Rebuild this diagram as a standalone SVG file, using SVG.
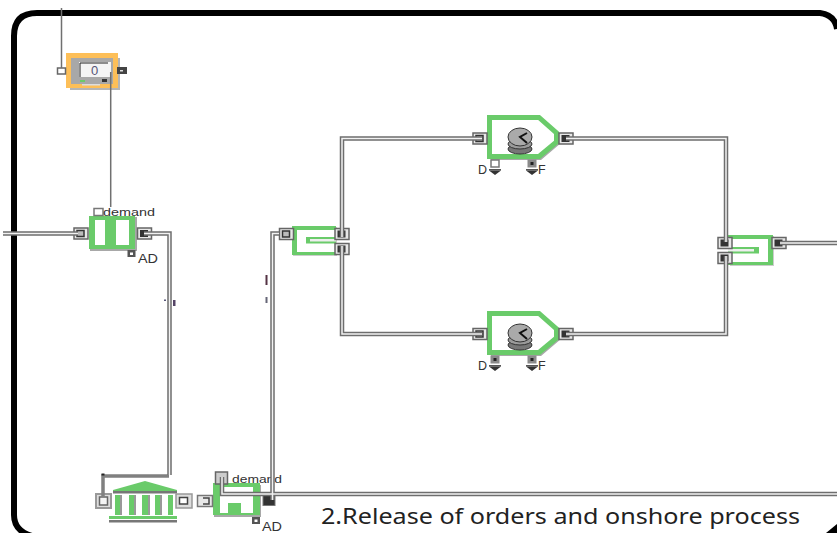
<svg xmlns="http://www.w3.org/2000/svg" width="837" height="533" viewBox="0 0 837 533">
<defs>
<style>
text{font-family:"Liberation Sans",Arial,sans-serif;font-size:11px;fill:#333}
.wire{fill:none;stroke:#6e6e6e;stroke-width:4.5}
.wirei{fill:none;stroke:#f2f2f2;stroke-width:1.5}
.thin{fill:none;stroke:#707070;stroke-width:1.5}
.solid{fill:none;stroke:#808080;stroke-width:3.5}
.s{fill:#a8a8a8}
.gf{fill:#6acb6a}
.w{fill:#fff}
</style>
<g id="pin"><rect x="-7" y="-5.500" width="14" height="11" fill="#e8e8e8" stroke="#666" stroke-width="1.500"/><rect x="-4" y="-3" width="7" height="6" fill="#bbb" stroke="#333" stroke-width="1.500"/></g>
<g id="pout"><rect x="-7" y="-5.500" width="14" height="11" fill="#e8e8e8" stroke="#666" stroke-width="1.500"/><rect x="-4.500" y="-3.500" width="8" height="7" fill="#333"/></g>
<g id="hw"><rect x="-4" y="-6" width="8" height="7" fill="#fff" stroke="#777" stroke-width="1.500"/><rect x="-6" y="3" width="12" height="1.500" fill="#555"/><path d="M-6 4.500H6L0 9Z" fill="#333"/></g>
<g id="hd"><rect x="-4.500" y="-6.500" width="9" height="8" fill="#8a8a8a"/><rect x="-1.500" y="-4" width="3" height="3" fill="#222"/><rect x="-6" y="3" width="12" height="1.500" fill="#555"/><path d="M-6 4.500H6L0 9Z" fill="#333"/></g>
<g id="clock"><ellipse cx="0" cy="12" rx="12" ry="5" fill="#777" stroke="#333"/><ellipse cx="0" cy="7" rx="12" ry="5" fill="#9a9a9a" stroke="#333"/><ellipse cx="0" cy="0" rx="12" ry="9" fill="#aaa" stroke="#333"/><path d="M7 -4L0 0L7 6" fill="none" stroke="#111" stroke-width="2"/></g>
<g id="cond"><path d="M-36 -18H16L36 -2V5L16 22H-34V19Z" class="s"/><path d="M-35.500 -20.500H14L31.500 -5V4L14 18.500H-35.500Z" fill="#fff" stroke="#6acb6a" stroke-width="5"/></g>
</defs>
<rect width="837" height="533" fill="#fff"/>
<path id="frame" d="M32 536Q14 531 14 515V36Q14 13 37 13H820Q835 15 837 29" fill="none" stroke="#000" stroke-width="6"/>
<path d="M826 533L837 524V533Z" fill="#000"/>
<g id="monitor">
<rect x="70" y="58" width="50" height="32" fill="#b5b5b5"/>
<rect x="66" y="53" width="52" height="35" fill="#fdbf58"/>
<rect x="71" y="58" width="42" height="26" fill="#a8a8a8"/>
<rect x="79" y="62" width="32" height="15" fill="#f4f4f4"/>
<path d="M80 77V63H108" fill="none" stroke="#222"/>
<rect x="80" y="80" width="5" height="2" class="gf"/>
<rect x="102" y="79" width="5" height="3" fill="#333"/>
<rect x="82" y="84" width="18" height="1.500" fill="#ddd"/>
<text x="94.500" y="74.500" text-anchor="middle" style="font-size:13px;fill:#557">0</text>
<rect x="57.500" y="68" width="8" height="6" fill="#fff" stroke="#666" stroke-width="1.500"/>
<rect x="117" y="67" width="10" height="7" fill="#444"/><rect x="120" y="70" width="3" height="1.500" fill="#ddd"/>
</g>
<g id="demand-top">
<rect x="90" y="217" width="47" height="34" class="s"/>
<rect x="89" y="216" width="46" height="33" class="gf"/>
<rect x="95" y="220" width="10" height="25" class="w"/>
<rect x="116" y="220" width="13" height="25" class="w"/>
<rect x="94" y="208.500" width="9" height="7" fill="#fff" stroke="#777" stroke-width="1.500"/>
<text x="103" y="216" textLength="52" lengthAdjust="spacingAndGlyphs">demand</text>
<use href="#pin" x="81" y="233.500"/><use href="#pout" x="144.500" y="233.500"/>
<rect x="127.500" y="250" width="8" height="7" fill="#555"/><rect x="130" y="252.500" width="3" height="2.500" fill="#fff"/>
<text x="138" y="263" textLength="20" lengthAdjust="spacingAndGlyphs" style="font-size:12px">AD</text>
</g>
<g id="bank">
<rect x="96" y="494" width="15" height="14" fill="#ddd" stroke="#999" stroke-width="2"/><rect x="99.500" y="497" width="8" height="8" fill="#f4f4f4" stroke="#666" stroke-width="1.500"/>
<path d="M113 490L145 481L177 490V492H113Z" class="gf"/>
<rect x="113" y="491" width="64" height="2.500" fill="#777"/>
<rect x="115" y="495" width="5" height="20" class="gf"/><rect x="129" y="495" width="5" height="20" class="gf"/><rect x="142" y="495" width="6" height="20" class="gf"/><rect x="155" y="495" width="5" height="20" class="gf"/><rect x="168" y="495" width="5" height="20" class="gf"/>
<rect x="120" y="495" width="2" height="20" fill="#999"/><rect x="134" y="495" width="2" height="20" fill="#999"/><rect x="148" y="495" width="2" height="20" fill="#999"/><rect x="160" y="495" width="2" height="20" fill="#999"/>
<rect x="109" y="516" width="68" height="3" class="gf"/><rect x="109" y="520" width="68" height="2.500" fill="#777"/>
<rect x="176" y="494" width="16" height="14" fill="#ddd" stroke="#999" stroke-width="1.500"/><rect x="179.500" y="497.500" width="8" height="6.500" fill="#fff" stroke="#444" stroke-width="1.500"/>
</g>
<g id="demand-bottom">
<rect x="214" y="485" width="47" height="32" class="s"/>
<rect x="213" y="483" width="47" height="32" class="gf"/>
<rect x="220" y="487" width="33" height="26" class="w"/>
<rect x="228" y="503" width="13" height="10" class="gf"/>
<rect x="197.500" y="495.500" width="15" height="11" fill="#e8e8e8" stroke="#777" stroke-width="1.500"/><path d="M203 498H209V504H203" fill="none" stroke="#444" stroke-width="1.500"/>
<rect x="215.500" y="472" width="12" height="12" fill="#ccc" stroke="#666" stroke-width="1.500"/>
<rect x="263" y="495" width="12" height="10.500" fill="#333" stroke="#777"/>
<text x="232" y="483" textLength="50" lengthAdjust="spacingAndGlyphs">demand</text>
<rect x="252" y="517" width="8" height="7" fill="#555"/><rect x="254.500" y="519.500" width="3" height="2.500" fill="#fff"/>
<text x="262" y="530.500" textLength="20" lengthAdjust="spacingAndGlyphs" style="font-size:12px">AD</text>
</g>
<g id="select">
<rect x="293" y="227" width="44" height="29" fill="#ccc"/>
<rect x="292" y="226" width="44" height="29" class="gf"/>
<rect x="297" y="230" width="39" height="22" class="w"/>
<rect x="306" y="237" width="30" height="6.500" class="gf"/>
<rect x="310" y="239" width="26" height="2.500" fill="#eee"/>
<use href="#pin" x="286.500" y="234"/>
<use href="#pout" x="342" y="234"/>
<use href="#pout" x="342" y="249"/>
</g>
<g id="delay-top">
<use href="#cond" x="525" y="138"/>
<use href="#clock" x="520" y="137"/>
<use href="#pin" x="480" y="138.500"/><use href="#pout" x="566" y="138.500"/>
<use href="#hw" x="495" y="166"/><use href="#hd" x="532" y="166"/>
<text x="478" y="173.500" style="font-size:12.500px">D</text><text x="538" y="173.500" style="font-size:12.500px">F</text>
</g>
<g id="delay-bottom">
<use href="#cond" x="525" y="334"/>
<use href="#clock" x="520" y="333"/>
<use href="#pin" x="480" y="334"/><use href="#pout" x="566" y="334"/>
<use href="#hd" x="495" y="362"/><use href="#hd" x="532" y="362"/>
<text x="478" y="369.500" style="font-size:12.500px">D</text><text x="538" y="369.500" style="font-size:12.500px">F</text>
</g>
<g id="merge">
<rect x="730" y="236" width="44" height="30" fill="#ccc"/>
<rect x="728" y="235" width="45" height="30" class="gf"/>
<rect x="728" y="239" width="40" height="23" class="w"/>
<rect x="728" y="247" width="31" height="6.500" class="gf"/>
<rect x="728" y="249" width="26" height="2.500" fill="#eee"/>
<use href="#pout" x="725" y="243"/>
<use href="#pout" x="725" y="258"/>
<use href="#pout" x="779" y="243"/>
</g>
<g id="connectors">
<path class="thin" d="M61.500 8V68M110.700 72V207"/>
<path class="solid" d="M103 497V476H169"/>
<rect x="101.500" y="473.500" width="3" height="2" fill="#222"/>
<path class="wire" d="M3 233.500H78M144 233.500H169.500V475M279 233.500H272.500V500M222 477V494H837M566 138.500H726V242M566 334H726V256M342 237V138.500H482M342 246V334H482M780 243H837"/>
<path class="wirei" d="M3 233.500H78M144 233.500H169.500V475M279 233.500H272.500V500M222 477V494H837M566 138.500H726V242M566 334H726V256M342 237V138.500H482M342 246V334H482M780 243H837"/>
</g>
<g id="marks">
<rect x="164" y="299.500" width="2" height="1.500" fill="#557"/>
<rect x="173" y="300" width="2.500" height="6" fill="#546"/>
<rect x="265.500" y="275" width="2" height="10" fill="#534"/>
<rect x="265.500" y="297" width="2" height="6" fill="#667"/>
</g>
<text id="caption" x="321" y="523.500" textLength="479" lengthAdjust="spacingAndGlyphs" style="font-family:'Noto Sans','Open Sans',sans-serif;font-size:21.500px;fill:#222">2.Release of orders and onshore process</text>
</svg>
